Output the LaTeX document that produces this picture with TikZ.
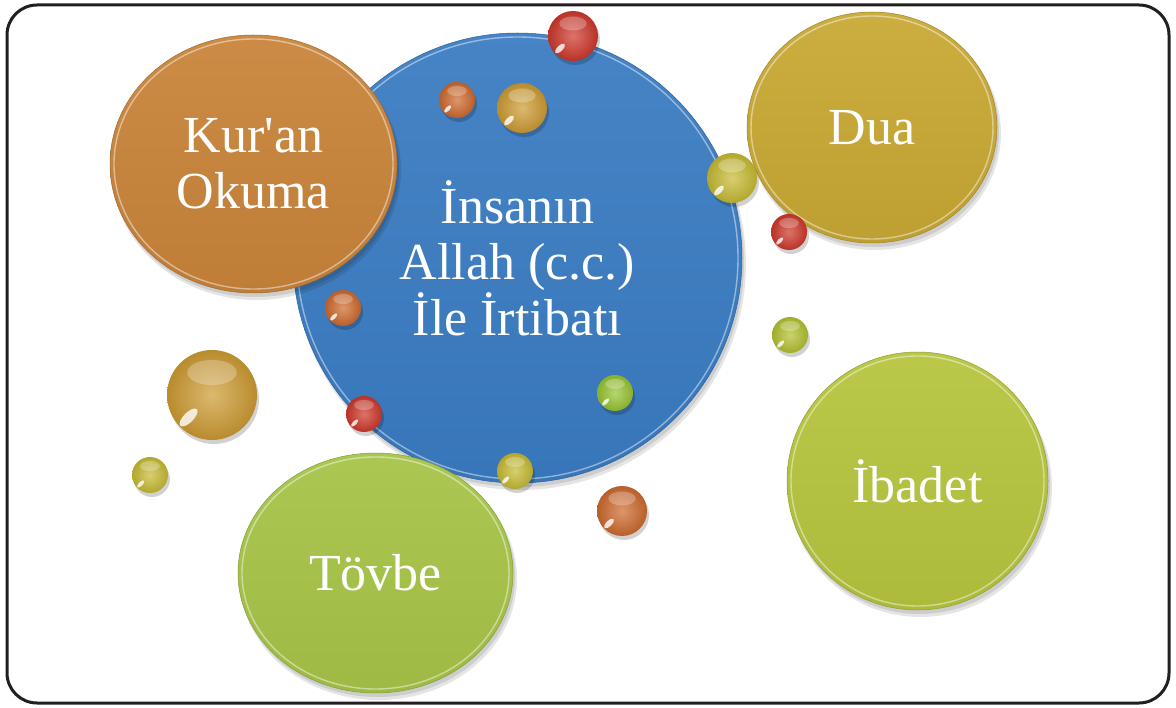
\documentclass[tikz,border=0pt]{standalone}
\usepackage{fontspec}
\setmainfont{Liberation Serif}[Ligatures=TeXOff]
\usetikzlibrary{shapes.geometric,calc}
\definecolor{framec}{HTML}{231F20}
\definecolor{cblue}{RGB}{58,124,194}
\definecolor{corange}{RGB}{201,132,58}
\definecolor{cgold}{RGB}{200,168,52}
\definecolor{colive}{RGB}{182,196,62}
\definecolor{cgreen}{RGB}{166,196,72}
\definecolor{bred}{RGB}{205,55,42}
\definecolor{borange}{RGB}{205,105,45}
\definecolor{bgold}{RGB}{205,155,50}
\definecolor{byellow}{RGB}{198,186,50}
\definecolor{blime}{RGB}{178,192,46}
\definecolor{bgreen}{RGB}{150,196,48}
\newcommand{\mybead}[5]{%
  \fill[black,opacity=0.18] (#2+2,#3+4) circle[radius=#4];
  \node[bead, minimum size={2*#4}, inner color=#5!70!white, outer color=#5!90!black] (#1) at (#2,#3) {};
  \fill[white,opacity=0.25] ($(#1.center)+(0,-0.5*#4)$) ellipse[x radius=0.55*#4, y radius=0.28*#4];
  \fill[white,opacity=0.8] ($(#1.center)+(-0.52*#4,0.5*#4)$) ellipse[x radius=0.26*#4, y radius=0.11*#4, rotate=45];
}
\newcommand{\mydisk}[8]{%
  \fill[black,opacity=0.10] (#3+3,#4+6) ellipse[x radius=#5+1, y radius=#6+1];
  \fill[black,opacity=0.10] (#3+2,#4+4) ellipse[x radius=#5, y radius=#6];
  \node[disk, minimum width={2*#5}, minimum height={2*#6}, top color=#7!94!white, bottom color=#7!95!black, draw=#7!80!black, line width=0.5pt] (#1) at (#3,#4) {#8};
  \draw[white,opacity=0.45,line width=1.4pt] (#1.center) ellipse[x radius=#5-4, y radius=#6-4];
}
\begin{document}
\begin{tikzpicture}[x=1pt,y=-1pt,
  disk/.style={ellipse, inner sep=0pt, text=white, align=center, font=\fontsize{52}{56}\selectfont},
  bead/.style={circle, inner sep=0pt},
  frameline/.style={draw=framec, line width=3pt, rounded corners=30pt}]
\useasboundingbox (0,0) rectangle (1176,708);
\fill[white] (0,0) rectangle (1176,708);
\draw[frameline] (7,5) rectangle (1169,703);
% central disk
\mydisk{main}{}{517.5}{258}{224.5}{225}{cblue}{İnsanın\\Allah (c.c.)\\İle İrtibatı}
% satellite disks
\mydisk{kuran}{}{253.5}{164}{143.5}{129}{corange}{Kur'an\\Okuma}
\mydisk{dua}{}{872}{127.5}{125}{115.5}{cgold}{Dua}
\mydisk{ibadet}{}{917.5}{481}{130.5}{129}{colive}{İbadet}
\mydisk{tovbe}{}{375.5}{573}{137.5}{120}{cgreen}{Tövbe}
% beads
\mybead{b1}{573}{36}{25}{bred}
\mybead{b2}{457}{100}{18}{borange}
\mybead{b3}{522}{108}{25}{bgold}
\mybead{b4}{732}{178}{25}{byellow}
\mybead{b5}{789}{232}{18}{bred}
\mybead{b6}{790}{335}{18}{blime}
\mybead{b7}{343}{308}{18}{borange}
\mybead{b8}{615}{393}{18}{bgreen}
\mybead{b9}{364}{414}{18}{bred}
\mybead{b10}{212}{395}{45}{bgold}
\mybead{b11}{150}{475}{18}{byellow}
\mybead{b12}{515}{471}{18}{byellow}
\mybead{b13}{622}{511}{25}{borange}
\end{tikzpicture}
\end{document}
